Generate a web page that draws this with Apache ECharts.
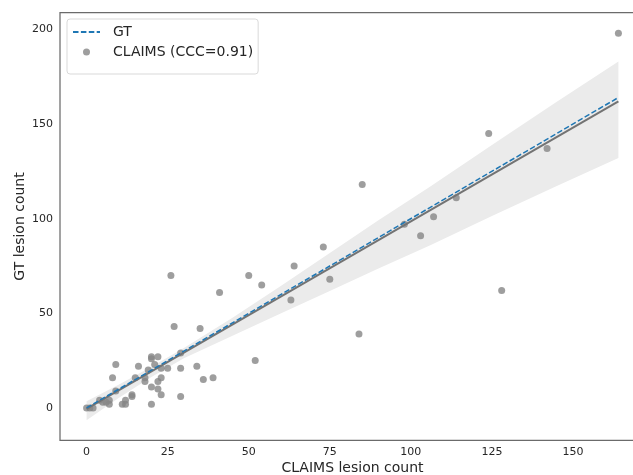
<!DOCTYPE html>
<html>
<head>
<meta charset="utf-8">
<script src="https://cdn.jsdelivr.net/npm/echarts@6/dist/echarts.min.js"></script>
<style>
html, body { margin: 0; padding: 0; background: #fff; }
#chart { width: 633px; height: 475px; }
</style>
</head>
<body>
<div id="chart"></div>
<script>
// lesion counts per case
var claimsCount = [0, 1, 2, 4, 5, 6, 7, 7, 8, 9, 9, 11, 12, 12, 14, 14, 15, 16, 18, 18,
  19, 20, 20, 22, 20, 20, 21, 22, 22, 23, 23, 23, 25, 26, 27, 29, 29, 29, 34, 35,
  36, 39, 41, 50, 52, 54, 63, 64, 73, 75, 84, 85, 98, 103, 107, 114, 124, 128, 142, 164];
var gtCount = [0, 0, 0, 4, 3, 3, 2, 4, 16, 23, 9, 2, 2, 4, 7, 6, 16, 22, 16, 14,
  20, 27, 26, 27, 11, 2, 23, 14, 10, 21, 16, 7, 21, 70, 43, 29, 21, 6, 22, 42,
  15, 16, 61, 70, 25, 65, 57, 75, 85, 68, 39, 118, 97, 91, 101, 111, 145, 62, 137, 198];

// identity line (GT) and regression line
var gtLineX = [0, 164];
var fitX = [0, 164];
var fitY = [-0.5, 162];

// confidence band edges
var bandX = [0, 10, 20, 30, 45, 60, 75, 90, 106, 125, 145, 164];
var bandHigh = [3.5, 12.4, 21.8, 31.7, 47.6, 64.5, 81.8, 99.2, 117, 138.9, 161.7, 183];
var bandLow = [-6.5, 5.4, 16.3, 26.2, 38.1, 50, 61.8, 73.7, 86, 101.4, 117.2, 132];

var xTicks = [0, 25, 50, 75, 100, 125, 150];
var yTicks = [0, 50, 100, 150, 200];

var FONT = "DejaVu Sans";
var TEXT = "#262626";

var chart = echarts.init(document.getElementById("chart"));

var points = claimsCount.map(function (x, i) { return [x, gtCount[i]]; });
var gtLine = gtLineX.map(function (x) { return [x, x]; });
var fitLine = fitX.map(function (x, i) { return [x, fitY[i]]; });

chart.setOption({
  animation: false,
  textStyle: { fontFamily: FONT },
  grid: {
    left: 60, right: -12, top: 12.7, bottom: 34.7,
    show: true, borderColor: "#6b6b6b", borderWidth: 1.25,
    backgroundColor: "transparent",
    outerBoundsMode: "none"
  },
  legend: {
    left: 67, top: 19, orient: "vertical",
    data: [
      { name: "GT", itemStyle: { opacity: 0 } },
      { name: "CLAIMS (CCC=0.91)" }
    ],
    backgroundColor: "#fff", borderColor: "#d9d9d9", borderWidth: 1, borderRadius: 3,
    padding: [6, 5, 15, 5],
    itemWidth: 27, itemHeight: 7, itemGap: 6,
    textStyle: { fontSize: 14, color: TEXT, fontFamily: FONT, padding: [0, 0, 0, 8], lineHeight: 14 }
  },
  xAxis: {
    type: "value", min: -8.2, max: 172.2,
    splitLine: { show: false },
    axisLine: { show: false },
    axisTick: { show: false },
    axisLabel: { customValues: xTicks, color: TEXT, fontSize: 11, margin: 6, fontFamily: FONT },
    name: "CLAIMS lesion count", nameLocation: "middle", nameGap: 21,
    nameMoveOverlap: false,
    nameTextStyle: { fontSize: 14, color: TEXT, fontFamily: FONT }
  },
  yAxis: {
    type: "value", min: -17.1, max: 208.8,
    splitLine: { show: false },
    axisLine: { show: false },
    axisTick: { show: false },
    axisLabel: { customValues: yTicks, color: TEXT, fontSize: 11, margin: 7, fontFamily: FONT },
    name: "GT lesion count", nameLocation: "middle", nameGap: 33,
    nameMoveOverlap: false,
    nameTextStyle: { fontSize: 14, color: TEXT, fontFamily: FONT }
  },
  series: [
    {
      name: "band",
      type: "custom",
      silent: true,
      z: 1,
      data: [[0, 0]],
      renderItem: function (params, api) {
        var pts = [];
        for (var i = 0; i < bandX.length; i++) pts.push(api.coord([bandX[i], bandHigh[i]]));
        for (var j = bandX.length - 1; j >= 0; j--) pts.push(api.coord([bandX[j], bandLow[j]]));
        return { type: "polygon", shape: { points: pts }, style: { fill: "#ebebeb" } };
      }
    },
    {
      name: "CLAIMS (CCC=0.91)",
      type: "scatter",
      data: points,
      symbolSize: 7,
      itemStyle: { color: "#868686" },
      z: 2
    },
    {
      name: "fit",
      type: "line",
      data: fitLine,
      symbol: "none",
      lineStyle: { color: "#737373", width: 2 },
      z: 3
    },
    {
      name: "GT",
      type: "line",
      data: gtLine,
      symbol: "none",
      itemStyle: { color: "#1f77b4" },
      lineStyle: { color: "#1f77b4", width: 1.5, type: [5.5, 2.4] },
      z: 4
    }
  ]
});
</script>
</body>
</html>
